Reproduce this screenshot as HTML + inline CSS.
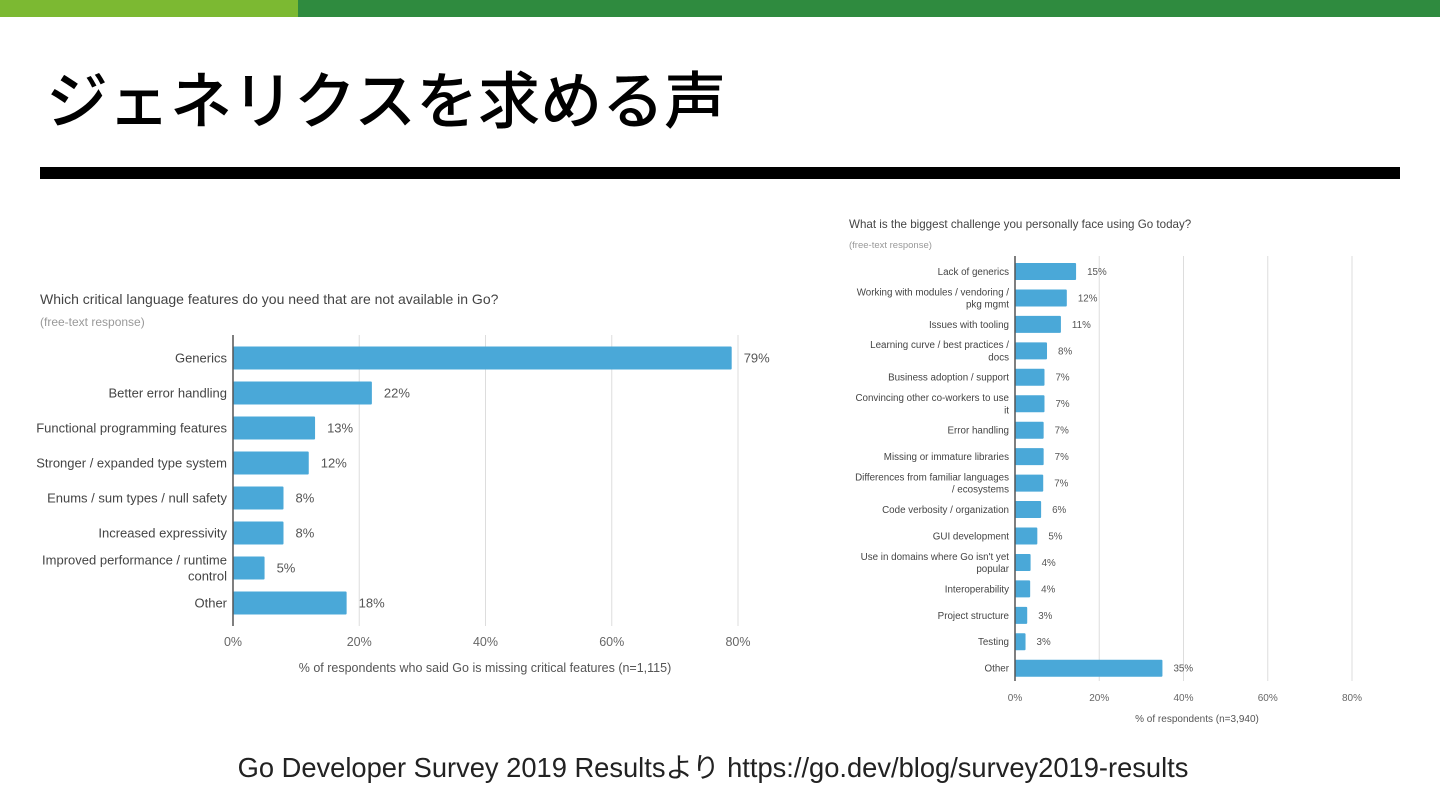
<!DOCTYPE html>
<html><head><meta charset="utf-8">
<style>
html,body{margin:0;padding:0;background:#fff;}
body{width:1440px;height:810px;position:relative;overflow:hidden;font-family:"Liberation Sans","Noto Sans CJK JP",sans-serif;}
.abs{position:absolute;}
</style></head><body>
<div class="abs" style="left:0;top:0;width:298px;height:17px;background:#7cb932"></div>
<div class="abs" style="left:298px;top:0;width:1142px;height:17px;background:#2f8b3f"></div>
<div class="abs" style="left:46px;top:56px;font-size:62px;line-height:80px;color:#000;font-weight:500;font-family:'Noto Sans CJK JP',sans-serif;">ジェネリクスを求める声</div>
<div class="abs" style="left:40px;top:167px;width:1360px;height:12px;background:#000"></div>
<div class="abs" style="left:0;width:1426px;top:745px;text-align:center;font-size:27.3px;color:#222;font-family:'Liberation Sans','Noto Sans CJK JP',sans-serif;">Go Developer Survey 2019 Resultsより https://go.dev/blog/survey2019-results</div>
<svg id="chart" class="abs" style="left:0;top:0" width="1440" height="810"></svg>
<script>
const leftCats=["Generics","Better error handling","Functional programming features","Stronger / expanded type system","Enums / sum types / null safety","Increased expressivity","Improved performance / runtime|control","Other"];
const leftVals=[79,22,13,12,8,8,5,18];
const leftLabels=["79%","22%","13%","12%","8%","8%","5%","18%"];
const rightCats=["Lack of generics","Working with modules / vendoring /|pkg mgmt","Issues with tooling","Learning curve / best practices /|docs","Business adoption / support","Convincing other co-workers to use|it","Error handling","Missing or immature libraries","Differences from familiar languages|/ ecosystems","Code verbosity / organization","GUI development","Use in domains where Go isn't yet|popular","Interoperability","Project structure","Testing","Other"];
const rightVals=[14.5,12.3,10.9,7.6,7,7,6.8,6.8,6.7,6.2,5.3,3.7,3.6,2.9,2.5,35];
const rightLabels=["15%","12%","11%","8%","7%","7%","7%","7%","7%","6%","5%","4%","4%","3%","3%","35%"];
const ticks=[0,20,40,60,80];
const tickLabels=["0%","20%","40%","60%","80%"];

const svg=document.getElementById('chart');
const NS='http://www.w3.org/2000/svg';
function mk(tag,attrs,name,parent){const e=document.createElementNS(NS,tag);for(const k in attrs)e.setAttribute(k,attrs[k]);


(parent||svg).appendChild(e);return e;}
function txt(x,y,s,size,color,anchor,name){const t=mk('text',{x:x,y:y,'font-size':size,fill:color,'text-anchor':anchor,'font-family':'Liberation Sans, sans-serif'},name);t.textContent=s;return t;}

function drawChart(o){
  const xs=v=>o.x0+(v/80)*(o.x80-o.x0);
  const ys=i=>o.yFirst+i*o.step;
  txt(o.titleX,o.titleY,o.title,o.titleSize,'#444','start',o.prefix+'-title');
  txt(o.titleX,o.subY,'(free-text response)',o.subSize,'#999','start',o.prefix+'-subtitle');
  ticks.forEach((t,i)=>{
    if(i>0)mk('line',{x1:xs(t),x2:xs(t),y1:o.axisTop,y2:o.axisBot,stroke:'#ddd','stroke-width':1},o.prefix+'-gridline');
    txt(xs(t),o.tickY,tickLabels[i],o.tickSize,'#666','middle',o.prefix+'-x-tick-label');
  });
  o.cats.forEach((c,i)=>{
    const y=ys(i);
    mk('rect',{x:o.x0,y:y-o.bh/2,width:xs(o.vals[i])-o.x0,height:o.bh,fill:'#4aa8d8',rx:1},o.prefix+'-bar');
    txt(xs(o.vals[i])+o.vlGap,y+o.catSize*0.35,o.labels[i],o.catSize,'#555','start',o.prefix+'-value-label');
    const parts=c.split('|');
    if(parts.length===1)txt(o.x0-6,y+o.catSize*0.35,parts[0],o.catSize,'#444','end',o.prefix+'-category-label');
    else{const lh=o.catSize*1.25;
      txt(o.x0-6,y-lh/2+o.catSize*0.35,parts[0],o.catSize,'#444','end',o.prefix+'-category-label');
      txt(o.x0-6,y+lh/2+o.catSize*0.35,parts[1],o.catSize,'#444','end',o.prefix+'-category-label');}
  });
  mk('line',{x1:o.x0,x2:o.x0,y1:o.axisTop,y2:o.axisBot,stroke:'#555','stroke-width':1.5},o.prefix+'-y-axis');
  txt(o.axTitleX,o.axTitleY,o.axTitle,o.tickSize,'#555','middle',o.prefix+'-x-axis-title');
}
drawChart({prefix:'left',cats:leftCats,vals:leftVals,labels:leftLabels,x0:233,x80:738,yFirst:358,step:35,bh:23,
 axisTop:335,axisBot:626,tickY:646,tickSize:12.5,catSize:13,vlGap:12,title:'Which critical language features do you need that are not available in Go?',
 titleX:40,titleY:304,titleSize:14,subY:326,subSize:12,axTitle:'% of respondents who said Go is missing critical features (n=1,115)',axTitleX:485,axTitleY:672});
drawChart({prefix:'right',cats:rightCats,vals:rightVals,labels:rightLabels,x0:1015,x80:1352,yFirst:271.5,step:26.45,bh:17,
 axisTop:256,axisBot:681,tickY:701,tickSize:10,catSize:9.8,vlGap:11,title:'What is the biggest challenge you personally face using Go today?',
 titleX:849,titleY:228,titleSize:11.6,subY:248,subSize:9.5,axTitle:'% of respondents (n=3,940)',axTitleX:1197,axTitleY:722});
</script>
</body></html>
